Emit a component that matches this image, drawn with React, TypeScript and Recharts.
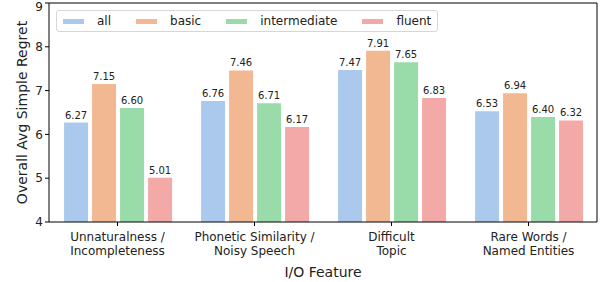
import { BarChart, Bar, XAxis, YAxis, LabelList } from "recharts";

const categories = [
  "Unnaturalness /\nIncompleteness",
  "Phonetic Similarity /\nNoisy Speech",
  "Difficult\nTopic",
  "Rare Words /\nNamed Entities",
];
const allValues = [6.27, 6.76, 7.47, 6.53];
const basicValues = [7.15, 7.46, 7.91, 6.94];
const intermediateValues = [6.6, 6.71, 7.65, 6.4];
const fluentValues = [5.01, 6.17, 6.83, 6.32];
const yTicks = [4, 5, 6, 7, 8, 9];

const series = [
  { key: "all", color: "#abc9ed" },
  { key: "basic", color: "#f1b892" },
  { key: "intermediate", color: "#99dba9" },
  { key: "fluent", color: "#f3a9a8" },
];

const data = categories.map((name, i) => ({
  name,
  all: allValues[i],
  basic: basicValues[i],
  intermediate: intermediateValues[i],
  fluent: fluentValues[i],
}));

const font = "'DejaVu Sans', sans-serif";

function CategoryTick(props: any) {
  const { x, y, payload } = props;
  const lines = String(payload.value).split("\n");
  return (
    <g transform={`translate(${x},${y})`}>
      {lines.map((line, i) => (
        <text
          key={i}
          x={0}
          y={13 + i * 14}
          textAnchor="middle"
          fontSize={12}
          fontFamily={font}
          fill="#222"
        >
          {line}
        </text>
      ))}
    </g>
  );
}

// legend drawn as an overlay so it doesn't eat plot space
function LegendBox() {
  return (
    <div
      style={{
        position: "absolute",
        left: 56,
        top: 10,
        display: "flex",
        alignItems: "center",
        border: "1px solid #d6d6d6",
        borderRadius: 3,
        background: "rgba(255,255,255,0.8)",
        padding: "2px 6px",
        height: 16,
        fontFamily: font,
        fontSize: 12,
        color: "#222",
      }}
    >
      {series.map((s, i) => (
        <div
          key={s.key}
          style={{ display: "flex", alignItems: "center", marginRight: i < series.length - 1 ? 25 : 0 }}
        >
          <span style={{ display: "inline-block", width: 21, height: 5, background: s.color, marginRight: 13 }} />
          <span>{s.key}</span>
        </div>
      ))}
    </div>
  );
}

export default function App() {
  return (
    <div style={{ position: "absolute", left: 0, top: 0, width: 604, height: 282, background: "#fff" }}>
      <BarChart
        width={604}
        height={282}
        data={data}
        margin={{ top: 2, right: 6, left: 0, bottom: 0 }}
        barCategoryGap="11%"
        barGap={4}
      >
        <XAxis
          dataKey="name"
          xAxisId="main"
          height={60}
          interval={0}
          tick={<CategoryTick />}
          tickSize={4}
          axisLine={{ stroke: "#000" }}
          tickLine={{ stroke: "#000" }}
          label={{
            value: "I/O Feature",
            position: "insideBottom",
            offset: 5,
            fontSize: 14,
            fontFamily: font,
            fill: "#222",
          }}
        />
        <XAxis
          dataKey="name"
          xAxisId="top"
          orientation="top"
          height={1}
          tick={false}
          tickLine={false}
          axisLine={{ stroke: "#000" }}
        />
        <YAxis
          yAxisId="main"
          domain={[4, 9]}
          ticks={yTicks}
          width={49}
          tickSize={4}
          allowDataOverflow
          axisLine={{ stroke: "#000" }}
          tickLine={{ stroke: "#000" }}
          tick={{ fontSize: 12, fontFamily: font, fill: "#222" }}
          label={{
            value: "Overall Avg Simple Regret",
            angle: -90,
            position: "insideLeft",
            offset: 22,
            style: { textAnchor: "middle" },
            fontSize: 14,
            fontFamily: font,
            fill: "#222",
          }}
        />
        <YAxis
          yAxisId="right"
          orientation="right"
          domain={[4, 9]}
          width={1}
          tick={false}
          tickLine={false}
          axisLine={{ stroke: "#000" }}
        />
        {series.map((s) => (
          <Bar
            key={s.key}
            dataKey={s.key}
            xAxisId="main"
            yAxisId="main"
            fill={s.color}
            isAnimationActive={false}
          >
            <LabelList
              dataKey={s.key}
              position="top"
              offset={4}
              formatter={(v: any) => Number(v).toFixed(2)}
              style={{ fontSize: 10, fontFamily: font, fill: "#222" }}
            />
          </Bar>
        ))}
      </BarChart>
      <LegendBox />
    </div>
  );
}
